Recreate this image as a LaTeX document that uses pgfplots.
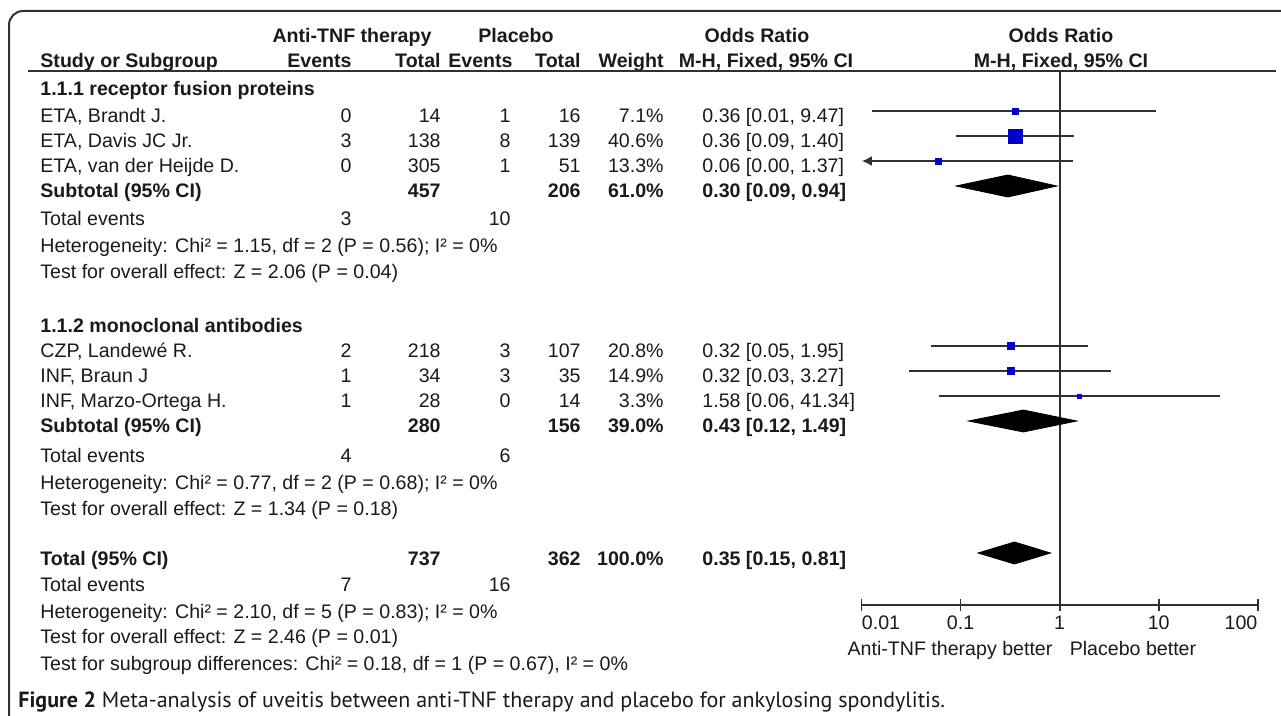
\documentclass[border=0pt]{standalone}
\usepackage{fontspec}
\setmainfont{Liberation Sans}
\newfontfamily\capfont{PT Sans}
\usepackage{pgfplots}
\pgfplotsset{compat=1.18}
\usetikzlibrary{arrows.meta}
\definecolor{sq}{HTML}{0000CC}
\definecolor{ln}{HTML}{303030}
\definecolor{tx}{HTML}{1A1A1A}
\newcommand\fs{\fontsize{9.8pt}{11.5pt}\selectfont}
\tikzset{
  L/.style={anchor=base west,inner sep=0pt,text=tx,font=\fs},
  R/.style={anchor=base east,inner sep=0pt,text=tx,font=\fs},
  C/.style={anchor=base,inner sep=0pt,text=tx,font=\fs},
  LB/.style={L,font=\fs\bfseries},
  RB/.style={R,font=\fs\bfseries},
  CB/.style={C,font=\fs\bfseries},
}
% columns (px): E1=352 T1=441 E2=511 T2=581 W=664 OR=702
\newcommand\study[8]{%
  \node[L] at (40,#1) {#2};
  \node[R] at (352,#1) {#3};
  \node[R] at (441,#1) {#4};
  \node[R] at (511,#1) {#5};
  \node[R] at (581,#1) {#6};
  \node[R] at (664,#1) {#7};
  \node[L] at (702,#1) {#8};}
\begin{document}
\begin{tikzpicture}
\begin{scope}[x=0.5pt,y=-0.5pt]
\useasboundingbox (0,0) rectangle (1281,716);
\draw[ln,line width=1pt,rounded corners=7pt] (9,716) -- (9,11) -- (1285,11);
% header
\node[CB] at (352,43) {Anti-TNF therapy};
\node[CB] at (516,43) {Placebo};
\node[CB] at (757,43) {Odds Ratio};
\node[CB] at (1061,43) {Odds Ratio};
\node[LB] at (40,68) {Study or Subgroup};
\node[RB] at (352,68) {Events};
\node[RB] at (441,68) {Total};
\node[RB] at (513,68) {Events};
\node[RB] at (581,68) {Total};
\node[RB] at (664,68) {Weight};
\node[CB] at (766,68) {M-H, Fixed, 95\% CI};
\node[CB] at (1061,68) {M-H, Fixed, 95\% CI};
\draw[ln,line width=0.8pt] (28,71) -- (1276,71);
% group 1
\node[LB] at (40,96) {1.1.1 receptor fusion proteins};
\study{123}{ETA, Brandt J.}{0}{14}{1}{16}{7.1\%}{0.36 [0.01, 9.47]}
\study{148}{ETA, Davis JC Jr.}{3}{138}{8}{139}{40.6\%}{0.36 [0.09, 1.40]}
\study{173}{ETA, van der Heijde D.}{0}{305}{1}{51}{13.3\%}{0.06 [0.00, 1.37]}
\node[LB] at (40,198) {Subtotal (95\% CI)};
\node[RB] at (441,198) {457};
\node[RB] at (581,198) {206};
\node[RB] at (664,198) {61.0\%};
\node[LB] at (702,198) {0.30 [0.09, 0.94]};
\node[L] at (40,226) {Total events};
\node[R] at (352,226) {3};
\node[R] at (511,226) {10};
\node[L] at (40,253) {Heterogeneity: Chi² = 1.15, df = 2 (P = 0.56); I² = 0\%};
\node[L] at (40,279) {Test for overall effect: Z = 2.06 (P = 0.04)};
% group 2
\node[LB] at (40,333) {1.1.2 monoclonal antibodies};
\study{358}{CZP, Landewé R.}{2}{218}{3}{107}{20.8\%}{0.32 [0.05, 1.95]}
\study{383}{INF, Braun J}{1}{34}{3}{35}{14.9\%}{0.32 [0.03, 3.27]}
\study{408}{INF, Marzo-Ortega H.}{1}{28}{0}{14}{3.3\%}{1.58 [0.06, 41.34]}
\node[LB] at (40,433) {Subtotal (95\% CI)};
\node[RB] at (441,433) {280};
\node[RB] at (581,433) {156};
\node[RB] at (664,433) {39.0\%};
\node[LB] at (702,433) {0.43 [0.12, 1.49]};
\node[L] at (40,463) {Total events};
\node[R] at (352,463) {4};
\node[R] at (511,463) {6};
\node[L] at (40,490) {Heterogeneity: Chi² = 0.77, df = 2 (P = 0.68); I² = 0\%};
\node[L] at (40,516) {Test for overall effect: Z = 1.34 (P = 0.18)};
% overall
\node[LB] at (40,566) {Total (95\% CI)};
\node[RB] at (441,566) {737};
\node[RB] at (581,566) {362};
\node[RB] at (664,566) {100.0\%};
\node[LB] at (702,566) {0.35 [0.15, 0.81]};
\node[L] at (40,592) {Total events};
\node[R] at (352,592) {7};
\node[R] at (511,592) {16};
\node[L] at (40,618) {Heterogeneity: Chi² = 2.10, df = 5 (P = 0.83); I² = 0\%};
\node[L] at (40,644) {Test for overall effect: Z = 2.46 (P = 0.01)};
\node[L] at (40,670) {Test for subgroup differences: Chi² = 0.18, df = 1 (P = 0.67), I² = 0\%};
% axis captions
\node[C] at (950,655) {Anti-TNF therapy better};
\node[C] at (1133,655) {Placebo better};
% figure caption
\node[anchor=base west,inner sep=0pt,text=tx,font=\capfont\fontsize{11pt}{12pt}\selectfont] at (18,708) {\textbf{Figure 2} Meta-analysis of uveitis between anti-TNF therapy and placebo for ankylosing spondylitis.};
\end{scope}

\begin{axis}[
  at={(430.75pt,-302.5pt)}, anchor=south west,
  scale only axis, width=198.1pt, height=267.5pt,
  xmode=log, xmin=0.01, xmax=100, ymin=-605, ymax=-70,
  axis x line=bottom, axis y line=none,
  axis line style={-, line width=0.9pt, color=ln},
  xtick={0.01,0.1,1,10,100}, xticklabels={},
  minor xtick={}, xminorticks=false,
  xtick align=center, major tick length=6pt,
  tick style={line width=0.9pt, color=ln},
  clip=false,
]
% reference line at OR = 1
\addplot[ln, line width=0.9pt] coordinates {(1,-70) (1,-605)};
% confidence intervals
\addplot[ln, line width=0.8pt] coordinates {(0.0128,-111) (9.47,-111)};
\addplot[ln, line width=0.8pt] coordinates {(0.09,-136) (1.40,-136)};
\addplot[ln, line width=0.8pt, -{Latex[length=5pt,width=5pt]}] coordinates {(1.37,-161) (0.0101,-161)};
\addplot[ln, line width=0.8pt] coordinates {(0.05,-346) (1.95,-346)};
\addplot[ln, line width=0.8pt] coordinates {(0.03,-371) (3.27,-371)};
\addplot[ln, line width=0.8pt] coordinates {(0.06,-396) (41.34,-396)};
% point estimates
\addplot[only marks, mark=square*, mark options={fill=sq,draw=sq}, mark size=1.5pt] coordinates {(0.36,-111)};
\addplot[only marks, mark=square*, mark options={fill=sq,draw=sq}, mark size=3.5pt] coordinates {(0.36,-136)};
\addplot[only marks, mark=square*, mark options={fill=sq,draw=sq}, mark size=1.5pt] coordinates {(0.06,-161)};
\addplot[only marks, mark=square*, mark options={fill=sq,draw=sq}, mark size=1.8pt] coordinates {(0.32,-346)};
\addplot[only marks, mark=square*, mark options={fill=sq,draw=sq}, mark size=1.7pt] coordinates {(0.32,-371)};
\addplot[only marks, mark=square*, mark options={fill=sq,draw=sq}, mark size=1.0pt] coordinates {(1.58,-396)};
% pooled diamonds
\addplot[fill=black, draw=black] coordinates {(0.09,-186) (0.30,-175) (0.94,-186) (0.30,-197)} -- cycle;
\addplot[fill=black, draw=black] coordinates {(0.12,-421) (0.43,-410) (1.49,-421) (0.43,-432)} -- cycle;
\addplot[fill=black, draw=black] coordinates {(0.15,-553) (0.35,-542) (0.81,-553) (0.35,-564)} -- cycle;
% tick labels
\node[anchor=base west,inner sep=0pt,text=tx,font=\fs] at (axis cs:0.01,-630) {0.01};
\node[anchor=base,inner sep=0pt,text=tx,font=\fs] at (axis cs:0.1,-630) {0.1};
\node[anchor=base,inner sep=0pt,text=tx,font=\fs] at (axis cs:1,-630) {1};
\node[anchor=base,inner sep=0pt,text=tx,font=\fs] at (axis cs:10,-630) {10};
\node[anchor=base east,inner sep=0pt,text=tx,font=\fs] at (axis cs:100,-630) {100};
\end{axis}
\end{tikzpicture}
\end{document}
